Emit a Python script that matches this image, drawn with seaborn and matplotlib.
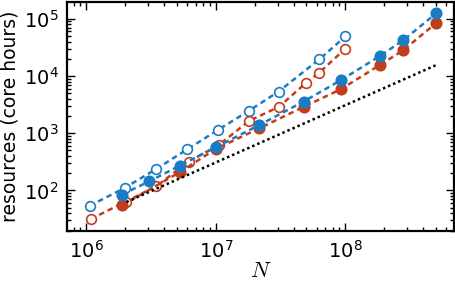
import matplotlib
matplotlib.use("Agg")
import matplotlib.pyplot as plt
import seaborn as sns
import pandas as pd
import numpy as np
from matplotlib.ticker import LogLocator, NullFormatter

# Data
blue_open_N = [1.06e6, 1.98e6, 3.44e6, 6.04e6, 1.04e7, 1.79e7, 3.05e7, 6.28e7, 1.0e8]
blue_open_R = [54, 111, 235, 526, 1143, 2450, 5350, 19500, 49000]

red_open_N = [1.08e6, 2.02e6, 3.48e6, 6.15e6, 1.05e7, 1.8e7, 3.06e7, 5.0e7, 6.3e7, 1.0e8]
red_open_R = [31.6, 64, 119, 320, 617, 1640, 2880, 7670, 11500, 30000]

blue_fill_N = [1.89e6, 3.05e6, 5.25e6, 1.0e7, 2.17e7, 4.75e7, 9.2e7, 1.85e8, 2.79e8, 5.02e8]
blue_fill_R = [85, 144, 270, 570, 1396, 3570, 8410, 22400, 42000, 124000]

red_fill_N = [1.89e6, 5.25e6, 1.0e7, 2.17e7, 4.75e7, 9.2e7, 1.85e8, 2.79e8, 5.02e8]
red_fill_R = [55, 208, 532, 1222, 2880, 5860, 15600, 28100, 84100]

ref_N = [2.04e6, 4.98e8]
ref_R = [63, 15400]

BLUE = "#1a7cc4"
RED = "#c23d1c"

sns.set_style("ticks")
plt.rcParams['font.family'] = ['DejaVu Sans']
plt.rcParams['text.color'] = 'black'
plt.rcParams['axes.labelcolor'] = 'black'
plt.rcParams['xtick.color'] = 'black'
plt.rcParams['ytick.color'] = 'black'

fig = plt.figure(figsize=(4.55, 2.85), dpi=100)
ax = fig.add_axes([0.147, 0.189, 0.851, 0.804])

def draw(N, R, color, filled):
    df = pd.DataFrame({"N": N, "R": R})
    sns.lineplot(data=df, x="N", y="R", ax=ax, color=color, linestyle=(0, (2.2, 1.6)),
                 linewidth=1.8, marker="o", markersize=7 if not filled else 7.5,
                 markerfacecolor=(color if filled else "white"),
                 markeredgecolor=color, markeredgewidth=1.2)

draw(blue_open_N, blue_open_R, BLUE, False)
draw(red_open_N, red_open_R, RED, False)
draw(red_fill_N, red_fill_R, RED, True)
draw(blue_fill_N, blue_fill_R, BLUE, True)
sns.lineplot(x=ref_N, y=ref_R, ax=ax, color="black", linestyle=(0, (1, 1.2)), linewidth=1.8)

ax.set_xscale("log")
ax.set_yscale("log")
ax.set_xlim(7.08e5, 6.9e8)
ax.set_ylim(19.5, 1.96e5)

ax.xaxis.set_major_locator(LogLocator(base=10, numticks=10))
ax.xaxis.set_minor_locator(LogLocator(base=10, subs=np.arange(2, 10), numticks=10))
ax.yaxis.set_major_locator(LogLocator(base=10, numticks=10))
ax.yaxis.set_minor_locator(LogLocator(base=10, subs=np.arange(2, 10), numticks=10))
ax.xaxis.set_minor_formatter(NullFormatter())
ax.yaxis.set_minor_formatter(NullFormatter())

ax.tick_params(which="both", direction="in", top=True, right=True, width=1.0,
               labelsize=14, colors="black")
ax.tick_params(which="major", length=6, pad=6)
ax.tick_params(which="minor", length=3)
for s in ax.spines.values():
    s.set_linewidth(1.6)
    s.set_color("black")

ax.set_xlabel("$N$", fontsize=16, math_fontfamily="cm", labelpad=0)
ax.set_ylabel("resources (core hours)", fontsize=13.5, labelpad=3)

fig.savefig("out.png", dpi=100)
